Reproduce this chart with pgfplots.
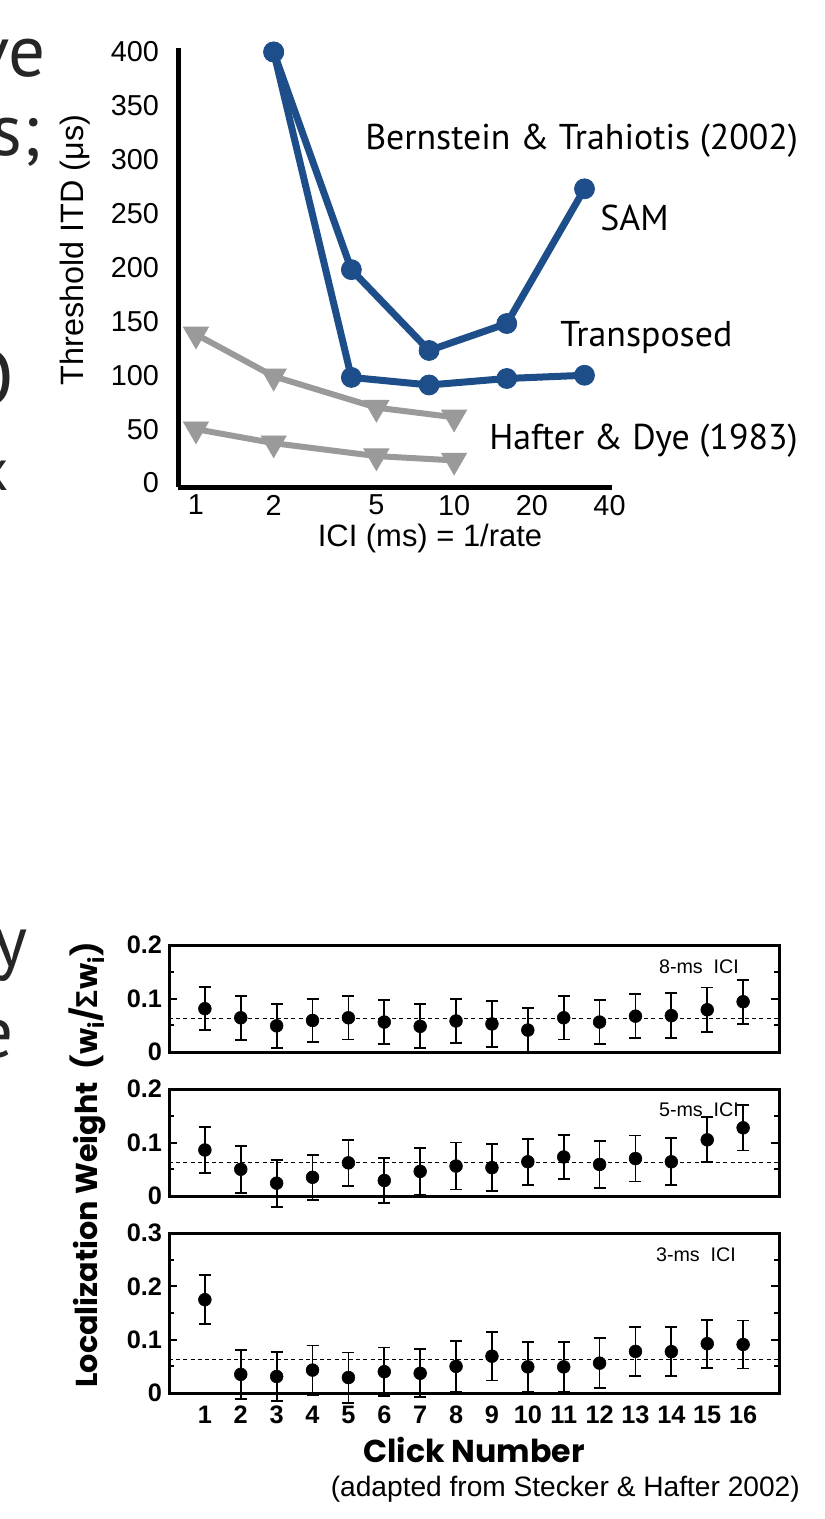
\documentclass[border=0pt]{standalone}
\usepackage{fontspec}
\setmainfont{Liberation Sans}
\newfontfamily\ptsans{PT Sans}
\newfontfamily\popfont{Poppins}
\usepackage{pgfplots}
\pgfplotsset{compat=1.18}
\definecolor{ItdBlue}{HTML}{1D4E89}
\definecolor{ItdGray}{HTML}{9A9A9A}
\newcommand{\fs}[1]{\fontsize{#1}{#1}\selectfont}

% click weights: x, weight, half-width of bar
\pgfplotstableread{
c w e
1 0.081 0.040
2 0.064 0.041
3 0.049 0.041
4 0.059 0.0405
5 0.064 0.0405
6 0.056 0.0405
7 0.048 0.041
8 0.058 0.041
9 0.0525 0.0425
10 0.041 0.041
11 0.064 0.0405
12 0.056 0.041
13 0.067 0.0415
14 0.068 0.042
15 0.079 0.0415
16 0.094 0.041
}\eightms
\pgfplotstableread{
c w e
1 0.086 0.0425
2 0.050 0.044
3 0.024 0.044
4 0.035 0.042
5 0.062 0.043
6 0.029 0.0425
7 0.046 0.044
8 0.056 0.044
9 0.053 0.044
10 0.064 0.043
11 0.073 0.0415
12 0.059 0.0435
13 0.070 0.043
14 0.064 0.044
15 0.105 0.042
16 0.1275 0.0425
}\fivems
\pgfplotstableread{
c w e
1 0.175 0.046
2 0.035 0.0455
3 0.031 0.0455
4 0.043 0.046
5 0.029 0.047
6 0.040 0.0455
7 0.037 0.045
8 0.050 0.047
9 0.069 0.0455
10 0.049 0.046
11 0.049 0.046
12 0.056 0.047
13 0.078 0.046
14 0.0775 0.046
15 0.0925 0.045
16 0.091 0.045
}\threems

\pgfplotsset{
  clickpanel/.style={
    scale only axis, width=152.5mm,
    xmin=0, xmax=17, ymin=0, clip=false,
    axis line style={line width=0.75mm},
    tick align=inside, xtick=\empty,
    minor y tick num=1,
    major tick length=2mm, minor tick length=1.3mm,
    tick style={black, line width=0.5mm},
    /pgf/number format/assume math mode=true,
    ticklabel style={font=\fs{18}\bfseries},
    yticklabel style={xshift=-0.5mm},
  },
  clickdots/.style={
    only marks, black, mark=*, mark size=1.6mm,
    error bars/.cd, y dir=both, y explicit,
    error bar style={line width=0.45mm},
    error mark options={rotate=90, line width=0.45mm, mark size=1.5mm, black},
  },
  chance/.style={black, dashed, line width=0.35mm, dash pattern=on 1mm off 0.8mm},
}

\begin{document}
\begin{tikzpicture}
\useasboundingbox (0,0) rectangle (206mm,-379.75mm);
\clip (0,0) rectangle (206mm,-379.75mm);

\begin{axis}[
  at={(44.5mm,-121.75mm)}, anchor=south west,
  scale only axis, width=108.5mm, height=109.75mm,
  xmode=log, xmin=0.852, xmax=40.9, ymin=-3.7, ymax=403.7,
  axis x line=bottom, axis y line=left,
  axis line style={-, line width=1.25mm},
  xtick={1,2,5,10,20,40}, xticklabels={1,2,5,10,20,40},
  ytick={0,50,...,400},
  tick style={draw=none},
  /pgf/number format/assume math mode=true,
  ticklabel style={font=\fs{20.5}},
  yticklabel style={xshift=-2.8mm},
  clip=false,
]
\addplot[ItdGray, line width=1.5mm, mark=triangle*, mark size=3.6mm,
  mark options={rotate=180, line width=0.2mm}]
  coordinates {(1,138) (2,99) (5,70) (10,61)};
\addplot[ItdGray, line width=1.5mm, mark=triangle*, mark size=3.6mm,
  mark options={rotate=180, line width=0.2mm}]
  coordinates {(1,50) (2,37) (5,25) (10,21)};
\addplot[ItdBlue, line width=1.75mm, mark=*, mark size=2.5mm,
  mark options={line width=0.2mm}]
  coordinates {(2,400) (4,98) (8,91) (16,97) (32,100)};
\addplot[ItdBlue, line width=1.75mm, mark=*, mark size=2.5mm,
  mark options={line width=0.2mm}]
  coordinates {(2,400) (4,198) (8,123) (16,148) (32,273)};
\end{axis}

\begin{axis}[clickpanel, at={(42.25mm,-263mm)}, anchor=south west,
  height=26.75mm, ymax=0.2, ytick={0,0.1,0.2}, yticklabels={0,0.1,0.2}]
\addplot[chance] coordinates {(0,0.0625) (17,0.0625)};
\addplot[clickdots] table[x=c, y=w, y error=e] {\eightms};
\end{axis}

\begin{axis}[clickpanel, at={(42.25mm,-299mm)}, anchor=south west,
  height=26.75mm, ymax=0.2, ytick={0,0.1,0.2}, yticklabels={0,0.1,0.2}]
\addplot[chance] coordinates {(0,0.0625) (17,0.0625)};
\addplot[clickdots] table[x=c, y=w, y error=e] {\fivems};
\end{axis}

\begin{axis}[clickpanel, at={(42.25mm,-348.25mm)}, anchor=south west,
  height=40mm, ymax=0.3, ytick={0,0.1,0.2,0.3}, yticklabels={0,0.1,0.2,0.3},
  xtick={1,...,16}, xtick style={draw=none},
  xticklabel style={font=\fs{18}\bfseries, yshift=-2mm}]
\addplot[chance] coordinates {(0,0.0625) (17,0.0625)};
\addplot[clickdots] table[x=c, y=w, y error=e] {\threems};
\end{axis}

\begin{scope}[x=0.25mm, y=-0.25mm]
% cropped slide text at the left edge
\node[anchor=base east, inner sep=0, font=\ptsans\fs{52}, text=black!85] at (46,76) {ve};
\node[anchor=base east, inner sep=0, font=\ptsans\fs{52}, text=black!85] at (41,155) {s;};
\node[anchor=base east, inner sep=0, font=\ptsans\fs{56}, text=black!85] at (15,406) {O};
\node[anchor=base east, inner sep=0, font=\ptsans\fs{42}, text=black!85] at (9,491) {x};
\node[anchor=base east, inner sep=0, font=\ptsans\fs{52}, text=black!85] at (28,967) {y};
\node[anchor=base east, inner sep=0, font=\ptsans\fs{52}, text=black!85] at (14,1058) {e};

\node[rotate=90, font=\fs{23}] at (75,250) {Threshold ITD (μs)};
\node[font=\fs{22}] at (430,538) {ICI (ms) = 1/rate};
\node[anchor=base west, inner sep=0, font=\ptsans\fs{25.5}] at (365,149) {Bernstein \& Trahiotis (2002)};
\node[anchor=base west, inner sep=0, font=\ptsans\fs{25.5}] at (600,230) {SAM};
\node[anchor=base west, inner sep=0, font=\ptsans\fs{25.5}] at (560,347) {Transposed};
\node[anchor=base west, inner sep=0, font=\ptsans\fs{25.5}] at (489,450) {Hafter \& Dye (1983)};

\node[font=\fs{14}] at (699,967) {8-ms\ \ ICI};
\node[font=\fs{14}] at (699,1110) {5-ms\ \ ICI};
\node[font=\fs{14}] at (696,1255) {3-ms\ \ ICI};
\node[rotate=90, font=\popfont\bfseries\fs{21.5}] at (87,1165) {Localization Weight\ \ (w\textsubscript{i}/{\rmfamily Σ}w\textsubscript{i})};
\node[font=\popfont\bfseries\fs{22.5}] at (474,1450) {Click Number};
\node[anchor=base east, inner sep=0, font=\fs{20}] at (800,1497) {(adapted from Stecker \& Hafter 2002)};
\end{scope}
\end{tikzpicture}
\end{document}
